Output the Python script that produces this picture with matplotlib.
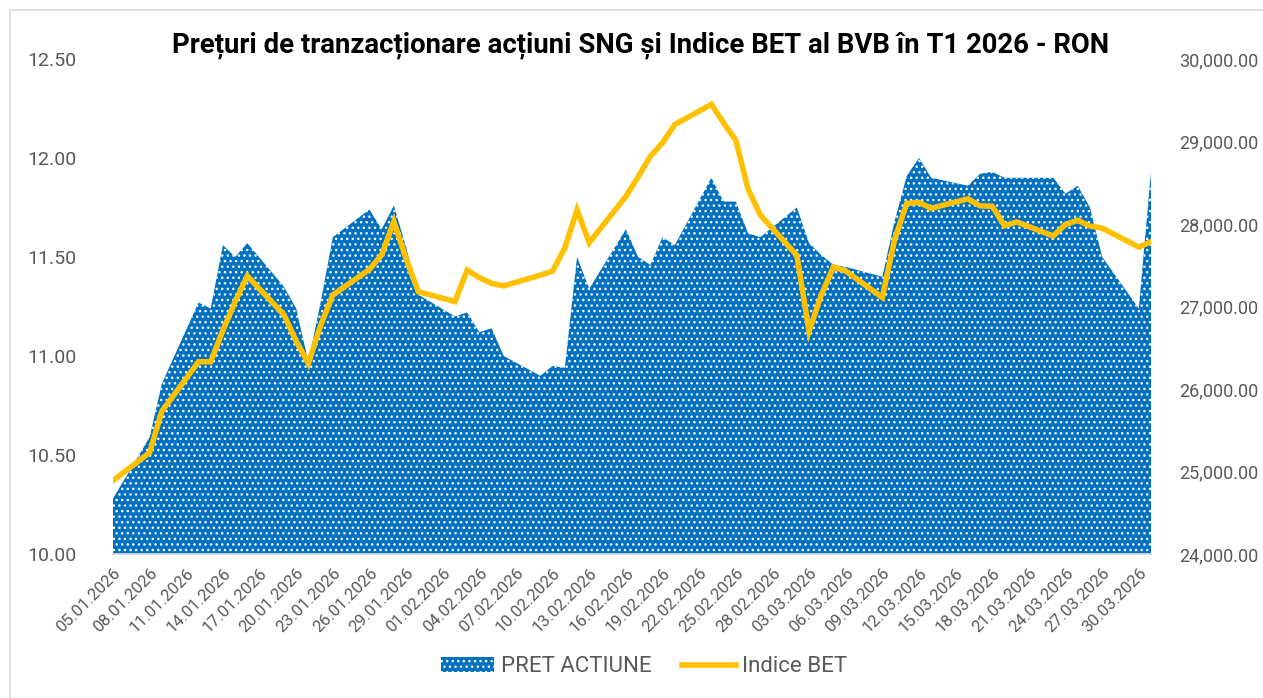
import numpy as np
import pandas as pd
import matplotlib
matplotlib.use("Agg")
import matplotlib.pyplot as plt
import matplotlib.dates as mdates
from matplotlib.patches import Patch
from matplotlib.lines import Line2D
from matplotlib.ticker import FuncFormatter

# zile de tranzactionare T1 2026
dates = pd.to_datetime([
    "2026-01-05", "2026-01-08", "2026-01-09",
    "2026-01-12", "2026-01-13", "2026-01-14", "2026-01-15", "2026-01-16",
    "2026-01-19", "2026-01-20", "2026-01-21", "2026-01-22", "2026-01-23",
    "2026-01-26", "2026-01-27", "2026-01-28", "2026-01-29", "2026-01-30",
    "2026-02-02", "2026-02-03", "2026-02-04", "2026-02-05", "2026-02-06",
    "2026-02-09", "2026-02-10", "2026-02-11", "2026-02-12", "2026-02-13",
    "2026-02-16", "2026-02-17", "2026-02-18", "2026-02-19", "2026-02-20",
    "2026-02-23", "2026-02-24", "2026-02-25", "2026-02-26", "2026-02-27",
    "2026-03-02", "2026-03-03", "2026-03-04", "2026-03-05", "2026-03-06",
    "2026-03-09", "2026-03-10", "2026-03-11", "2026-03-12", "2026-03-13",
    "2026-03-16", "2026-03-17", "2026-03-18", "2026-03-19", "2026-03-20",
    "2026-03-23", "2026-03-24", "2026-03-25", "2026-03-26", "2026-03-27",
    "2026-03-30", "2026-03-31",
])

pret_actiune = [
    10.28, 10.59, 10.86,
    11.27, 11.24, 11.56, 11.50, 11.57,
    11.35, 11.24, 10.97, 11.27, 11.60,
    11.74, 11.64, 11.76, 11.55, 11.31,
    11.20, 11.22, 11.12, 11.14, 11.00,
    10.90, 10.95, 10.94, 11.50, 11.34,
    11.64, 11.50, 11.46, 11.60, 11.56,
    11.90, 11.78, 11.78, 11.62, 11.60,
    11.75, 11.57, 11.51, 11.46, 11.45,
    11.40, 11.68, 11.91, 12.00, 11.90,
    11.86, 11.92, 11.93, 11.90, 11.90,
    11.90, 11.82, 11.86, 11.75, 11.50,
    11.24, 11.93,
]

indice_bet = [
    24890, 25230, 25730,
    26330, 26330, 26710, 27060, 27370,
    26900, 26580, 26310, 26770, 27140,
    27450, 27625, 28030, 27580, 27180,
    27060, 27440, 27350, 27280, 27250,
    27380, 27430, 27710, 28170, 27775,
    28335, 28570, 28820, 28985, 29205,
    29450, 29225, 29015, 28425, 28110,
    27620, 26700, 27140, 27480, 27430,
    27110, 27810, 28250, 28260, 28190,
    28305, 28220, 28215, 27980, 28025,
    27855, 27995, 28045, 27975, 27950,
    27720, 27785,
]

tick_dates = pd.date_range("2026-01-05", "2026-03-30", freq="3D")

BLUE = "#0070C0"
GOLD = "#FFC000"
GREY = "#595959"

plt.rcParams["font.family"] = ["Roboto", "DejaVu Sans"]
plt.rcParams["hatch.linewidth"] = 1.0

W, H = 1263, 698
fig = plt.figure(figsize=(W / 100, H / 100), dpi=100)
left, right, top, bottom = 113, 1151, 59, 554
ax = fig.add_axes([left / W, 1 - bottom / H, (right - left) / W, (bottom - top) / H])

ax.fill_between(dates, 10, pret_actiune, facecolor=BLUE, edgecolor="white",
                hatch="...", linewidth=0, zorder=1)
ax.set_ylim(10, 12.5)
ax.set_yticks(np.arange(10, 12.51, 0.5))
ax.yaxis.set_major_formatter(FuncFormatter(lambda v, p: f"{v:.2f}"))
ax.set_xlim(pd.Timestamp("2026-01-05"), pd.Timestamp("2026-03-31"))
ax.set_xticks(tick_dates)
ax.xaxis.set_major_formatter(mdates.DateFormatter("%d.%m.%Y"))

ax2 = ax.twinx()
ax2.plot(dates, indice_bet, color=GOLD, lw=4, solid_joinstyle="miter", zorder=3)
ax2.set_ylim(24000, 30000)
ax2.set_yticks(np.arange(24000, 30001, 1000))
ax2.yaxis.set_major_formatter(FuncFormatter(lambda v, p: f"{v:,.2f}"))

for a in (ax, ax2):
    for s in a.spines.values():
        s.set_visible(False)
    a.tick_params(length=0, colors=GREY, labelsize=14)
ax.spines["bottom"].set_visible(True)
ax.spines["bottom"].set_color("#D9D9D9")
ax.spines["bottom"].set_linewidth(1.3)
ax.tick_params(axis="y", pad=26)
ax2.tick_params(axis="y", pad=20, labelsize=13)
ax.tick_params(axis="x", labelsize=12, pad=8)
for lbl in ax.get_xticklabels():
    lbl.set_rotation(45)
    lbl.set_ha("right")
    lbl.set_rotation_mode("anchor")

fig.text(0.507, 1 - 45 / H, "Prețuri de tranzacționare acțiuni SNG și Indice BET al BVB în T1 2026 - RON",
         ha="center", va="center", fontsize=19.8, fontweight="bold", color="black")

handles = [
    Patch(facecolor=BLUE, edgecolor="white", hatch="...", linewidth=0, label="PRET ACTIUNE"),
    Line2D([0], [0], color=GOLD, lw=4, label="Indice BET"),
]
fig.legend(handles=handles, loc="center", bbox_to_anchor=(0.51, 1 - 667 / H), ncol=2,
           frameon=False, fontsize=16, labelcolor=GREY, handlelength=2.4,
           handleheight=0.65, handletextpad=0.3, columnspacing=1.4)

# chenarul graficului (doar sus si stanga sunt in imagine)
fig.add_artist(Line2D([10 / W, 1], [1 - 10 / H, 1 - 10 / H], transform=fig.transFigure,
                      color="#D9D9D9", lw=1.2))
fig.add_artist(Line2D([10 / W, 10 / W], [0, 1 - 10 / H], transform=fig.transFigure,
                      color="#D9D9D9", lw=1.2))

fig.savefig("out.png", dpi=100)
